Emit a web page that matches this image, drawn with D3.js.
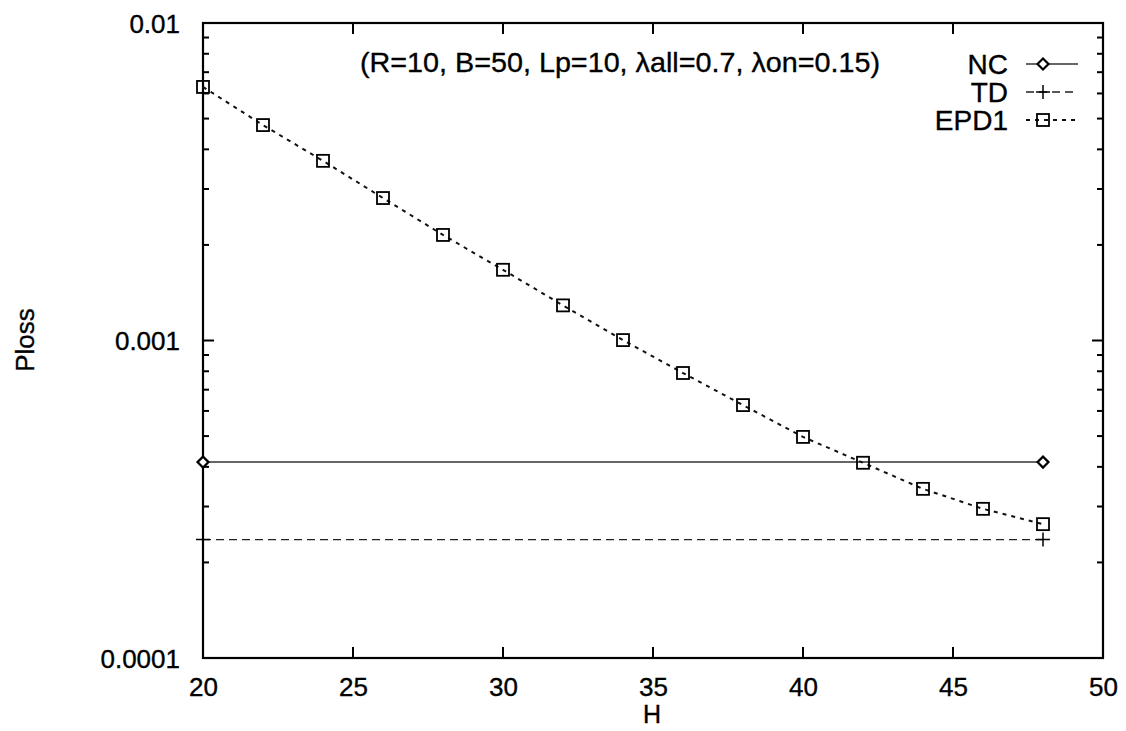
<!DOCTYPE html>
<html><head><meta charset="utf-8">
<script src="https://cdn.jsdelivr.net/npm/d3@7"></script>
<style>body{margin:0;background:#fff}svg{display:block}text{font-family:"Liberation Sans",Arial,sans-serif;fill:#000;stroke:#000;stroke-width:0.35}</style>
</head><body><svg id="c" width="1126" height="731"></svg>
<script>
const xTicks = [20, 25, 30, 35, 40, 45, 50];
const yTicks = [0.0001, 0.001, 0.01];
const yTickLabels = ["0.0001", "0.001", "0.01"];
const epdH = [20, 22, 24, 26, 28, 30, 32, 34, 36, 38, 40, 42, 44, 46, 48];
const epdVals = [0.00629, 0.00477, 0.00368, 0.00281, 0.00215, 0.00167, 0.00129, 0.001003, 0.000790, 0.000626, 0.000497, 0.000412, 0.000341, 0.000295, 0.000264];
const ncH = [20, 48];
const ncVals = [0.000414, 0.000414];
const tdH = [20, 48];
const tdVals = [0.000236, 0.000236];
const legendNames = ["NC", "TD", "EPD1"];
const titleText = "(R=10, B=50, Lp=10, \u03bball=0.7, \u03bbon=0.15)";

const svg = d3.select("#c");
const L = 203, R = 1103, T = 23, B = 658;
const x = d3.scaleLinear().domain([20, 50]).range([L, R]);
const y = d3.scaleLog().domain([0.0001, 0.01]).range([B, T]);

const minor = [];
for (let e = -4; e < -2; e++) for (let m = 2; m <= 9; m++) minor.push(m * Math.pow(10, e));

const g = svg.append("g");
const yAxisL = d3.axisLeft(y).tickValues(yTicks).tickFormat((d, i) => yTickLabels[i]).tickSize(0).tickPadding(23);
g.append("g").attr("transform", `translate(${L},0)`).call(yAxisL)
  .call(s => s.select(".domain").remove())
  .selectAll("text").attr("font-size", 26).attr("dy", "0.36em");
const xAxisB = d3.axisBottom(x).tickValues(xTicks).tickFormat(d3.format("d")).tickSize(0).tickPadding(20);
g.append("g").attr("transform", `translate(0,${B})`).call(xAxisB)
  .call(s => s.select(".domain").remove())
  .selectAll("text").attr("font-size", 26);
g.selectAll(".tick text").attr("fill", "#000").attr("stroke", "#000").attr("stroke-width", 0.35).attr("font-family", "Liberation Sans, Arial, sans-serif");

const tk = svg.append("g").attr("stroke", "#000").attr("stroke-width", 2);
yTicks.forEach(v => {
  tk.append("line").attr("x1", L).attr("x2", L + 11).attr("y1", y(v)).attr("y2", y(v));
  tk.append("line").attr("x1", R).attr("x2", R - 11).attr("y1", y(v)).attr("y2", y(v));
});
minor.forEach(v => {
  tk.append("line").attr("x1", L).attr("x2", L + 6).attr("y1", y(v)).attr("y2", y(v));
  tk.append("line").attr("x1", R).attr("x2", R - 6).attr("y1", y(v)).attr("y2", y(v));
});
xTicks.forEach(v => {
  tk.append("line").attr("x1", x(v)).attr("x2", x(v)).attr("y1", B).attr("y2", B - 11);
  tk.append("line").attr("x1", x(v)).attr("x2", x(v)).attr("y1", T).attr("y2", T + 11);
});
svg.append("rect").attr("x", L).attr("y", T).attr("width", R - L).attr("height", B - T)
  .attr("fill", "none").attr("stroke", "#000").attr("stroke-width", 2.2);

svg.append("text").attr("x", 652).attr("y", 723).attr("text-anchor", "middle").attr("font-size", 25).text("H");
svg.append("text").attr("transform", `translate(34,340) rotate(-90)`).attr("text-anchor", "middle").attr("font-size", 26).text("Ploss");
svg.append("text").attr("x", 360).attr("y", 72).attr("font-size", 28)
  .attr("textLength", 520).attr("lengthAdjust", "spacingAndGlyphs").text(titleText);

const line = d3.line().x(d => x(d[0])).y(d => y(d[1]));
const styles = [
  {dash: null, w: 1.5, col: "#333"},
  {dash: "8,5", w: 1.3, col: "#222"},
  {dash: "4,5", w: 2, col: "#111"}
];
const series = [
  {h: ncH, v: ncVals},
  {h: tdH, v: tdVals},
  {h: epdH, v: epdVals}
];

function marker(sel, k, cx, cy) {
  if (k === 0) {
    sel.append("path").attr("d", `M${cx - 5.5},${cy}L${cx},${cy - 5.5}L${cx + 5.5},${cy}L${cx},${cy + 5.5}Z`)
      .attr("fill", "#fff").attr("stroke", "#000").attr("stroke-width", 2.2);
  } else if (k === 1) {
    sel.append("path").attr("d", `M${cx - 7},${cy}H${cx + 7}M${cx},${cy - 7}V${cy + 7}`)
      .attr("stroke", "#000").attr("stroke-width", 1.5);
  } else {
    sel.append("rect").attr("x", cx - 6).attr("y", cy - 6).attr("width", 12).attr("height", 12)
      .attr("fill", "none").attr("stroke", "#000").attr("stroke-width", 1.8);
  }
}

series.forEach((s, k) => {
  const pts = s.h.map((h, i) => [h, s.v[i]]);
  svg.append("path").attr("d", line(pts)).attr("fill", "none")
    .attr("stroke", styles[k].col).attr("stroke-width", styles[k].w)
    .attr("stroke-dasharray", styles[k].dash);
  const mg = svg.append("g");
  pts.forEach(p => marker(mg, k, x(p[0]), y(p[1])));
});

const legY = [64, 92, 120];
legendNames.forEach((n, k) => {
  svg.append("text").attr("x", 1008).attr("y", legY[k] + 10).attr("text-anchor", "end").attr("font-size", 28).text(n);
  svg.append("line").attr("x1", 1026).attr("x2", 1078).attr("y1", legY[k]).attr("y2", legY[k])
    .attr("stroke", styles[k].col).attr("stroke-width", styles[k].w).attr("stroke-dasharray", styles[k].dash);
  marker(svg, k, 1043, legY[k]);
});
</script></body></html>
